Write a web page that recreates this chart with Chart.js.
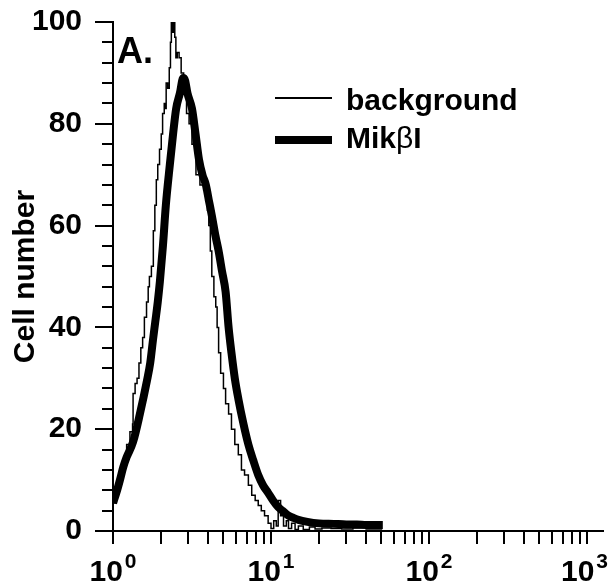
<!DOCTYPE html>
<html>
<head>
<meta charset="utf-8">
<script src="https://cdn.jsdelivr.net/npm/chart.js@4.4.1/dist/chart.umd.min.js"></script>
<style>
  body { margin: 0; background: #fff; }
  #wrap { width: 609px; height: 586px; }
</style>
</head>
<body>
<div id="wrap"><canvas id="histChart" width="609" height="586"></canvas></div>
<script>
// series names
const seriesNames = ['background', 'Mik\u03b2I'];

// background histogram (thin, stepped)
const bgX = [1.00, 1.05, 1.10, 1.16, 1.22, 1.28, 1.33, 1.34, 1.38, 1.42, 1.46, 1.50, 1.54, 1.58, 1.63, 1.67, 1.70, 1.75, 1.80, 1.84,
    1.88, 1.92, 1.97, 2.02, 2.06, 2.11, 2.14, 2.17, 2.22, 2.27, 2.31, 2.34, 2.38, 2.42, 2.46, 2.50, 2.55, 2.62, 2.70, 2.80,
    2.92, 3.03, 3.16, 3.35, 3.55, 3.75, 3.87, 3.96, 4.04, 4.13, 4.22, 4.35, 4.47, 4.56, 4.66, 4.80, 5.00, 5.16, 5.39, 5.62,
    5.90, 6.21, 6.50, 6.80, 7.19, 7.55, 7.94, 8.30, 8.68, 9.10, 9.59, 10.0, 10.4, 10.8, 11.1, 11.5, 12.0, 12.5, 12.9, 13.5,
    14.2, 14.9, 16.0, 17.5, 19.0, 21.0, 24.0, 28.0, 33.0, 40.0, 50.0];
const bgY = [5.5, 8, 11, 14, 17, 19.5, 21, 27, 29, 30, 33, 36, 38, 42, 45, 48, 50, 52, 59, 64,
    69, 72, 75, 78, 82, 84, 83, 88, 87, 91, 96, 100, 98, 100, 97, 93, 94, 93, 90, 86,
    82, 80, 76, 70, 68, 67, 66, 63, 60, 55, 50, 46, 44, 40, 35, 31, 28, 25, 23, 20,
    17, 15, 12, 11, 9, 7, 6, 5, 4, 3, 1.5, 0.5, 2, 1, 6, 3, 1, 2, 0.5, 1.5,
    0.3, 1, 0.3, 0.8, 0.4, 0.6, 0.5, 0.4, 0.6, 0.4, 0.5];

// MikbI histogram (thick)
const mikX = [1.00, 1.05, 1.106, 1.16, 1.22, 1.34, 1.48, 1.64, 1.72, 1.79, 1.85, 1.92, 1.98, 2.07, 2.16, 2.29, 2.40, 2.51, 2.65, 2.78,
    2.86, 2.96, 3.16, 3.33, 3.50, 3.68, 3.87, 4.04, 4.22, 4.45, 4.66, 4.90, 5.16, 5.39, 5.62, 5.90, 6.21, 6.70, 7.19, 7.70,
    8.30, 8.90, 9.59, 10.3, 11.1, 11.8, 12.9, 13.8, 14.9, 17.0, 20.1, 25.0, 30.0, 35.0, 40.0, 45.0, 51.0];
const mikY = [5.5, 7.5, 10, 12.5, 14.5, 17.5, 23, 29.5, 33, 37.5, 41, 45, 49, 56, 64, 72, 78, 83, 86, 89,
    88.5, 86, 83, 78, 73, 70, 68, 65, 62, 58, 55, 51, 47, 40, 35, 30, 26, 21, 17, 14,
    11, 9, 7.5, 6, 4.7, 4, 3, 2.6, 2.2, 1.8, 1.5, 1.4, 1.3, 1.3, 1.2, 1.2, 1.2];

// log axis ticks (decades labelled)
const xTickValues = [1, 2, 3, 4, 5, 6, 7, 8, 9, 10, 20, 30, 40, 50, 60, 70, 80, 90, 100, 200, 300, 400, 500, 600, 700, 800, 900, 1000];
const xLabelValues = [1, 10, 100, 1000];
const panelLabel = 'A.';
const yTitle = 'Cell number';

const FONT = '"Liberation Sans", Arial, sans-serif';

// label text: latin bold, greek regular (like the Symbol font in the original)
function drawLabel(c, text, x, y) {
    for (const ch of text) {
        c.font = (/[\u0370-\u03ff]/.test(ch) ? '30px ' : 'bold 30px ') + FONT;
        c.fillText(ch, x, y);
        x += c.measureText(ch).width;
    }
}

// draw 10^n labels, panel letter and legend
const decorPlugin = {
    id: 'decor',
    afterDraw(chart) {
        const c = chart.ctx;
        const xs = chart.scales.x;
        c.save();
        c.fillStyle = '#000';
        c.textBaseline = 'alphabetic';
        xLabelValues.forEach(v => {
            const px = xs.getPixelForValue(v);
            const exp = String(Math.round(Math.log10(v)));
            c.font = 'bold 30px ' + FONT;
            const w1 = c.measureText('10').width;
            c.font = 'bold 21px ' + FONT;
            const w2 = c.measureText(exp).width;
            const start = Math.min(px - (w1 + 2 + w2) / 2, chart.width - 1 - (w1 + 2 + w2));
            c.font = 'bold 30px ' + FONT;
            c.fillText('10', start, 581);
            c.font = 'bold 21px ' + FONT;
            c.fillText(exp, start + w1 + 2, 568);
        });

        c.font = 'bold 36px ' + FONT;
        c.fillText(panelLabel, 117, 63);

        // legend
        const items = chart.data.datasets;
        const rows = [98, 140];
        const base = [110, 148];
        items.forEach((ds, i) => {
            c.strokeStyle = '#000';
            c.lineWidth = Math.max(ds.borderWidth, 2);
            c.beginPath();
            c.moveTo(275, rows[i]);
            c.lineTo(332, rows[i]);
            c.stroke();
            drawLabel(c, ds.label, 346, base[i]);
        });
        c.restore();
    }
};

const ctx = document.getElementById('histChart').getContext('2d');
const chart = new Chart(ctx, {
    type: 'line',
    data: {
        datasets: [
            {
                label: seriesNames[0],
                data: bgX.map((x, i) => ({ x: x, y: bgY[i] })),
                borderColor: '#000',
                borderWidth: 1.5,
                stepped: true,
                pointRadius: 0,
                fill: false
            },
            {
                label: seriesNames[1],
                data: mikX.map((x, i) => ({ x: x, y: mikY[i] })),
                borderColor: '#000',
                borderWidth: 8,
                cubicInterpolationMode: 'monotone',
                pointRadius: 0,
                fill: false
            }
        ]
    },
    options: {
        responsive: false,
        animation: false,
        devicePixelRatio: 1,
        layout: { padding: { top: 22, right: 6, left: 0, bottom: 0 } },
        plugins: {
            legend: { display: false },
            tooltip: { enabled: false }
        },
        scales: {
            x: {
                type: 'logarithmic',
                min: 1,
                max: 1262,
                border: { display: true, color: '#000', width: 2 },
                grid: { drawOnChartArea: false, drawTicks: true, tickLength: 13, color: '#000', lineWidth: 2 },
                ticks: { display: false, autoSkip: false },
                afterBuildTicks: s => { s.ticks = xTickValues.map(v => ({ value: v })); },
                afterFit: s => { s.height = 55; s.paddingLeft = 0; s.paddingRight = 0; }
            },
            y: {
                min: 0,
                max: 100,
                border: { display: true, color: '#000', width: 2 },
                grid: {
                    drawOnChartArea: false,
                    drawTicks: true,
                    tickLength: 18,
                    color: '#000',
                    lineWidth: 2,
                    tickBorderDash: c => (c.tick && c.tick.value % 20 === 0) ? [] : [0, 7, 11, 0]
                },
                ticks: {
                    stepSize: 4,
                    autoSkip: false,
                    padding: 13,
                    color: '#000',
                    font: { family: FONT, size: 30, weight: 'bold' },
                    callback: v => (v % 20 === 0 ? v : '')
                },
                title: {
                    display: true,
                    text: yTitle,
                    color: '#000',
                    font: { family: FONT, size: 30, weight: 'bold' },
                    padding: { top: 8, bottom: 0 }
                },
                afterFit: s => { s.width = 113; s.paddingTop = 0; s.paddingBottom = 0; }
            }
        }
    },
    plugins: [decorPlugin]
});
</script>
</body>
</html>
